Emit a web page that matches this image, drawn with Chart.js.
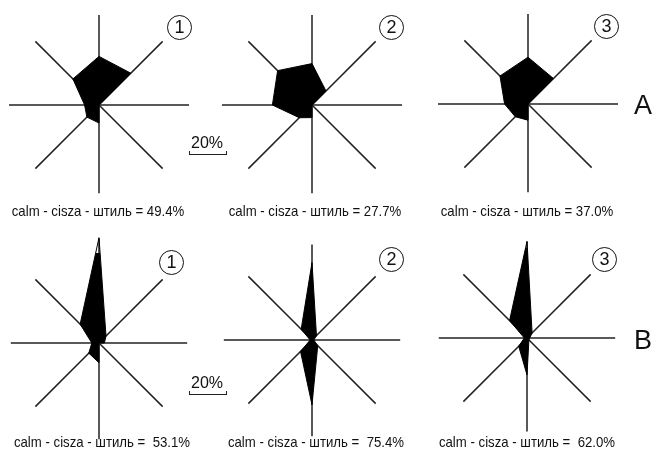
<!DOCTYPE html>
<html>
<head>
<meta charset="utf-8">
<script src="https://cdn.jsdelivr.net/npm/chart.js@4/dist/chart.umd.min.js"></script>
<style>
  body { margin: 0; background: #fff; width: 664px; height: 455px; overflow: hidden; position: relative; font-family: "Liberation Sans", Arial, sans-serif; }
  canvas { position: absolute; }
  .num { position: absolute; width: 23px; height: 23px; border: 1.5px solid #111; border-radius: 50%;
         font-size: 18px; line-height: 23px; text-align: center; color: #111; background: #fff; }
  .cap { position: absolute; font-size: 15px; color: #111; white-space: pre;
         transform: translate(-50%, -50%) scaleX(0.88); }
  .row { position: absolute; font-size: 27px; color: #111; transform: translate(-50%, -50%); }
  .bar { position: absolute; border: 1.5px solid #222; border-top: none; height: 3px; }
  .bartxt { position: absolute; font-size: 16px; color: #111; transform: translate(-50%, -50%); }
</style>
</head>
<body>
<script>
// wind directions, clockwise from north
const directions = ["N", "NE", "E", "SE", "S", "SW", "W", "NW"];

// frequency of wind directions (%) read from the roses
const roseA1 = [27, 25, 0, 0, 10, 9.5, 8, 20.5];
const roseA2 = [23, 11, 0, 0, 7, 10, 22, 27];
const roseA3 = [26, 20, 0, 0, 9, 10, 13, 22];
const roseB1 = [58.5, 5.5, 3, 0, 11, 8, 4, 14.8];
const roseB2 = [43, 3.5, 1, 4.5, 36, 9, 1, 8.5];
const roseB3 = [53.7, 4, 1.5, 1.5, 20.5, 6.5, 1.5, 13.7];

const calmA = ["49.4%", "27.7%", "37.0%"];
const calmB = ["53.1%", "75.4%", "62.0%"];
const panelNumbers = ["1", "2", "3"];
const rowLabels = ["A", "B"];
const scaleStep = 20;   // scale bar value (%)
const scaleMax = 50;    // axis length (%)

// length of the drawn axis rays (in % of the scale)
const raysA = [50, 50, 50, 50, 49, 50, 50, 50];
const raysB1 = [58, 50, 49, 50, 53.5, 50, 49, 50];
const raysB2 = [53, 50, 49, 50, 53.5, 50, 49, 50];
const raysB3 = [53.5, 50, 49, 50, 52, 50, 49, 50];

const panels = [
  { data: roseA1, rays: raysA,  cx: 99,  cy: 105, nx: 180, ny: 28,  tx: 98,  ty: 210, calm: calmA[0], num: panelNumbers[0], gap: " " },
  { data: roseA2, rays: raysA,  cx: 312, cy: 105, nx: 392, ny: 28,  tx: 315, ty: 210, calm: calmA[1], num: panelNumbers[1], gap: " " },
  { data: roseA3, rays: raysA,  cx: 528, cy: 104, nx: 607, ny: 27,  tx: 527, ty: 210, calm: calmA[2], num: panelNumbers[2], gap: " " },
  { data: roseB1, rays: raysB1, cx: 99,  cy: 343, nx: 172, ny: 263, tx: 102, ty: 441, calm: calmB[0], num: panelNumbers[0], gap: "  " },
  { data: roseB2, rays: raysB2, cx: 312, cy: 340, nx: 392, ny: 260, tx: 316, ty: 441, calm: calmB[1], num: panelNumbers[1], gap: "  " },
  { data: roseB3, rays: raysB3, cx: 527, cy: 338, nx: 605, ny: 260, tx: 527, ty: 441, calm: calmB[2], num: panelNumbers[2], gap: "  " }
];

// draws the 8 axis rays through the radial scale, each with its own length
const axisRays = {
  id: "axisRays",
  beforeDatasetsDraw(chart, args, opts) {
    const r = chart.scales.r, ctx = chart.ctx;
    ctx.save();
    ctx.strokeStyle = "#222";
    ctx.lineWidth = 1.5;
    opts.lengths.forEach((len, i) => {
      const pos = r.getPointPosition(i, r.getDistanceFromCenterForValue(len));
      ctx.beginPath();
      ctx.moveTo(r.xCenter, r.yCenter);
      ctx.lineTo(pos.x, pos.y);
      ctx.stroke();
    });
    ctx.restore();
  }
};

const SIZE = 260, PAD = 40;
let firstChart = null;

panels.forEach(p => {
  const cv = document.createElement("canvas");
  cv.width = SIZE; cv.height = SIZE;
  cv.style.left = (p.cx - SIZE / 2) + "px";
  cv.style.top = (p.cy - SIZE / 2) + "px";
  cv.style.width = SIZE + "px"; cv.style.height = SIZE + "px";
  document.body.appendChild(cv);

  const chart = new Chart(cv, {
    type: "radar",
    data: {
      labels: directions,
      datasets: [{
        data: p.data,
        backgroundColor: "#000",
        borderColor: "#000",
        borderWidth: 1,
        pointRadius: 0,
        fill: true,
        clip: false
      }]
    },
    options: {
      responsive: false,
      animation: false,
      layout: { padding: PAD },
      plugins: {
        legend: { display: false },
        tooltip: { enabled: false },
        axisRays: { lengths: p.rays }
      },
      scales: {
        r: {
          min: 0, max: scaleMax,
          grid: { display: false },
          ticks: { display: false },
          pointLabels: { display: false },
          angleLines: { display: false }
        }
      }
    },
    plugins: [axisRays]
  });
  if (!firstChart) firstChart = chart;

  const n = document.createElement("div");
  n.className = "num";
  n.textContent = p.num;
  n.style.left = (p.nx - 13) + "px";
  n.style.top = (p.ny - 13) + "px";
  document.body.appendChild(n);

  const c = document.createElement("div");
  c.className = "cap";
  c.textContent = "calm - cisza - штиль =" + p.gap + p.calm;
  c.style.left = p.tx + "px";
  c.style.top = p.ty + "px";
  document.body.appendChild(c);
});

// 20% scale bars, length taken from the radial scale
const barLen = firstChart.scales.r.getDistanceFromCenterForValue(scaleStep);
[{ y: 154, ty: 143 }, { y: 394, ty: 383 }].forEach(b => {
  const bar = document.createElement("div");
  bar.className = "bar";
  bar.style.left = (207 - barLen / 2) + "px";
  bar.style.top = (b.y - 3) + "px";
  bar.style.width = barLen + "px";
  document.body.appendChild(bar);
  const t = document.createElement("div");
  t.className = "bartxt";
  t.textContent = scaleStep + "%";
  t.style.left = "207px";
  t.style.top = b.ty + "px";
  document.body.appendChild(t);
});

[{ y: 105 }, { y: 340 }].forEach((r, i) => {
  const d = document.createElement("div");
  d.className = "row";
  d.textContent = rowLabels[i];
  d.style.left = "643px";
  d.style.top = r.y + "px";
  document.body.appendChild(d);
});
</script>
</body>
</html>
